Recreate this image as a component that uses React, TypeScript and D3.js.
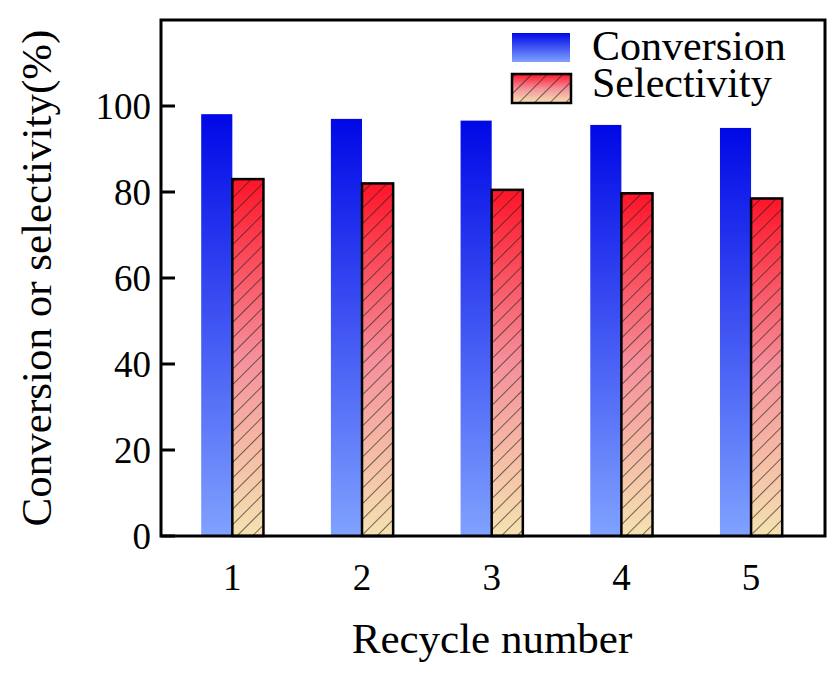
import * as d3 from "d3";

const cycles = [1, 2, 3, 4, 5];
const conversion = [98.1, 97.0, 96.6, 95.6, 94.9];
const selectivity = [83.0, 82.0, 80.5, 79.7, 78.5];
const yTicks = [0, 20, 40, 60, 80, 100];

const W = 840;
const H = 680;
const margin = { top: 20, right: 15, bottom: 144, left: 161 };
const font = "'Liberation Serif', 'Times New Roman', serif";

export default function App() {
	const innerW = W - margin.left - margin.right;
	const innerH = H - margin.top - margin.bottom;

	const x = d3.scaleLinear().domain([0.45, 5.57]).range([0, innerW]);
	const y = d3.scaleLinear().domain([0, 120]).range([innerH, 0]);
	const barW = x(1.24) - x(1);

	return (
		<svg width={W} height={H} style={{ position: "absolute", left: 0, top: 0 }}>
			<defs>
				<linearGradient id="blueGrad" x1="0" y1="0" x2="0" y2="1">
					<stop offset="0%" stopColor="#0008e6" />
					<stop offset="100%" stopColor="#80a2ff" />
				</linearGradient>
				<linearGradient id="redGrad" x1="0" y1="0" x2="0" y2="1">
					<stop offset="0%" stopColor="#ff1428" />
					<stop offset="50%" stopColor="#f5909a" />
					<stop offset="100%" stopColor="#f5e2b0" />
				</linearGradient>
				<pattern id="hatch" width="11" height="11" patternUnits="userSpaceOnUse" patternTransform="rotate(45)">
					<line x1="0" y1="0" x2="0" y2="11" stroke="#222" strokeWidth="1.3" />
				</pattern>
			</defs>
			<rect width={W} height={H} fill="#fff" />
			<g transform={`translate(${margin.left},${margin.top})`}>
				{cycles.map((c, i) => (
					<g key={c}>
						<rect
							x={x(c) - barW}
							y={y(conversion[i])}
							width={barW}
							height={innerH - y(conversion[i])}
							fill="url(#blueGrad)"
						/>
						<rect
							x={x(c)}
							y={y(selectivity[i])}
							width={barW}
							height={innerH - y(selectivity[i])}
							fill="url(#redGrad)"
						/>
						<rect
							x={x(c)}
							y={y(selectivity[i])}
							width={barW}
							height={innerH - y(selectivity[i])}
							fill="url(#hatch)"
							stroke="#000"
							strokeWidth={2.5}
						/>
					</g>
				))}

				{/* y ticks, pointing inward */}
				{yTicks.map(t => (
					<g key={t} transform={`translate(0,${y(t)})`}>
						<line x1={0} x2={14} stroke="#000" strokeWidth={3} />
						<text x={-10} dy="0.35em" textAnchor="end" fontFamily={font} fontSize={37}>
							{t}
						</text>
					</g>
				))}

				{cycles.map(c => (
					<text key={c} x={x(c)} y={innerH + 54} textAnchor="middle" fontFamily={font} fontSize={37}>
						{c}
					</text>
				))}

				<rect x={0} y={0} width={innerW} height={innerH} fill="none" stroke="#000" strokeWidth={3} />
			</g>

			{/* legend */}
			<g transform="translate(512,0)">
				<rect x={0} y={33} width={58} height={29} fill="url(#blueGrad)" />
				<text x={80} y={60} fontFamily={font} fontSize={42}>Conversion</text>
				<rect x={0} y={74} width={59} height={29} fill="url(#redGrad)" />
				<rect x={0} y={74} width={59} height={29} fill="url(#hatch)" stroke="#000" strokeWidth={2.5} />
				<text x={80} y={97} fontFamily={font} fontSize={42}>Selectivity</text>
			</g>

			<text
				transform={`translate(51,${margin.top + innerH / 2}) rotate(-90)`}
				textAnchor="middle"
				fontFamily={font}
				fontSize={43}
			>
				Conversion or selectivity(%)
			</text>
			<text x={492} y={653} textAnchor="middle" fontFamily={font} fontSize={43}>
				Recycle number
			</text>
		</svg>
	);
}
